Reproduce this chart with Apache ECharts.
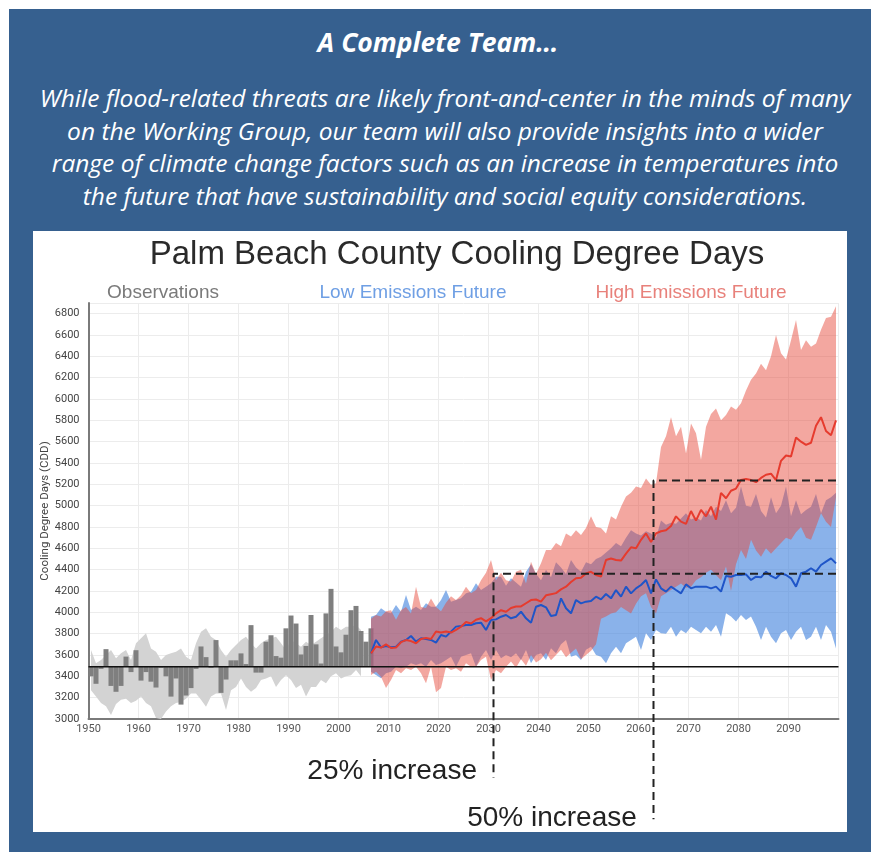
<!DOCTYPE html>
<html>
<head>
<meta charset="utf-8">
<title>Palm Beach County Cooling Degree Days</title>
<script src="https://cdn.jsdelivr.net/npm/echarts@6/dist/echarts.min.js"></script>
<style>
  html, body { margin: 0; padding: 0; background: #fff; }
  .panel { position: absolute; left: 9px; top: 9px; width: 862px; height: 843px; background: #36608f; }
  .head { position: absolute; left: -2px; top: 18px; width: 862px; text-align: center; color: #fff;
          font: italic bold 26.5px/30px "Open Sans", sans-serif; }
  .intro { position: absolute; left: 10px; top: 73px; width: 852px; text-align: center; color: #fff;
           font: italic 24.5px/32.7px "Open Sans", sans-serif; }
  #chart { position: absolute; left: 24px; top: 222px; width: 814px; height: 601px; background: #fff; }
</style>
</head>
<body>
<div class="panel">
  <div class="head">A Complete Team…</div>
  <div class="intro">While flood-related threats are likely front-and-center in the minds of many<br>on the Working Group, our team will also provide insights into a wider<br>range of climate change factors such as an increase in temperatures into<br>the future that have sustainability and social equity considerations.</div>
  <div id="chart"></div>
</div>
<script>
// observed annual CDD, 1950-2006 (bars) and observed spread, 1950-2004 (gray band)
const OBS_START = 1950;
const obsValues = [3400, 3330, 3470, 3655, 3310, 3255, 3310, 3585, 3440, 3645,
  3360, 3440, 3350, 3295, 3480, 3400, 3210, 3380, 3135, 3220,
  3290, 3470, 3680, 3580, 3480, 3740, 3245, 3370, 3550, 3550,
  3615, 3515, 3880, 3435, 3435, 3725, 3785, 3590, 3575, 3850,
  3970, 3895, 3605, 3685, 3975, 3700, 3520, 3990, 4220, 3680,
  3625, 3790, 4020, 4060, 3825, 3725, 3850];
const obsUpper = [3647, 3522, 3553, 3600, 3647, 3569, 3616, 3647, 3553, 3709,
  3756, 3803, 3662, 3631, 3553, 3600, 3616, 3631, 3662, 3584,
  3553, 3709, 3818, 3850, 3772, 3741, 3647, 3584, 3647, 3694,
  3741, 3772, 3709, 3662, 3709, 3741, 3756, 3772, 3709, 3647,
  3741, 3709, 3678, 3725, 3694, 3725, 3756, 3787, 3818, 3866,
  3834, 3866, 3866, 3881, 3834];
const obsLower = [3270, 3210, 3150, 3120, 3037, 3140, 3180, 3190, 3150, 3170,
  3210, 3150, 3120, 3010, 3000, 3070, 3120, 3150, 3160, 3190,
  3240, 3240, 3180, 3115, 3210, 3240, 3240, 3085, 3270, 3300,
  3380, 3300, 3255, 3290, 3365, 3380, 3400, 3300, 3365, 3410,
  3365, 3290, 3320, 3210, 3300, 3300, 3365, 3335, 3400, 3430,
  3380, 3400, 3410, 3460, 3400];

// model projections, 2006-2099
const FUT_START = 2006;
const lowMean = [3616, 3741, 3672, 3684, 3672, 3678, 3725, 3741, 3778, 3725, 3756, 3750, 3741, 3716,
  3787, 3772, 3819, 3866, 3872, 3881, 3881, 3897, 3903, 3834,
  3928, 3934, 3959, 3975, 3944, 3959, 4006, 3944, 3903, 4053,
  4069, 4047, 3966, 3975, 4131, 4038, 3991, 4116, 4084, 4100,
  4106, 4147, 4122, 4172, 4131, 4209, 4147, 4241, 4178, 4225,
  4256, 4303, 4178, 4309, 4225, 4194, 4241, 4209, 4178, 4262,
  4225, 4241, 4241, 4241, 4225, 4241, 4194, 4341, 4334, 4350,
  4350, 4356, 4303, 4334, 4328, 4381, 4341, 4319, 4366, 4350,
  4319, 4241, 4366, 4381, 4413, 4381, 4444, 4475, 4506, 4459];
const highMean = [3616, 3680, 3670, 3700, 3665, 3670, 3720, 3740, 3730, 3710, 3750, 3760, 3750, 3820,
  3810, 3820, 3810, 3835, 3865, 3910, 3895, 3930, 3945, 3915,
  3945, 3990, 4020, 4005, 4040, 4055, 4055, 4085, 4115, 4120,
  4100, 4160, 4170, 4180, 4215, 4240, 4285, 4320, 4325, 4365,
  4380, 4350, 4335, 4490, 4505, 4490, 4485, 4550, 4610, 4600,
  4680, 4740, 4660, 4740, 4760, 4770, 4810, 4900, 4850, 4830,
  4950, 4860, 4960, 4900, 4990, 4870, 5120, 5070, 5140, 5160,
  5240, 5250, 5240, 5220, 5260, 5290, 5300, 5240, 5420, 5470,
  5460, 5640, 5600, 5570, 5590, 5750, 5830, 5700, 5660, 5800];
const lowUpper = [3959, 3975, 4038, 4006, 3991, 4069, 4006, 4162, 4022, 4053, 4022, 4084, 4053, 4053,
  4116, 4209, 4100, 4116, 4131, 4178, 4194, 4272, 4209, 4241, 4272, 4334, 4334,
  4250, 4320, 4280, 4240, 4380, 4450, 4360, 4300, 4400, 4330, 4470, 4420, 4360, 4490, 4420, 4380, 4470,
  4450, 4500, 4520, 4560, 4600, 4650, 4620, 4700, 4770, 4740,
  4720, 4760, 4740, 4700, 4860, 4820, 4840, 4830, 4880, 4930,
  4870, 4890, 4860, 4960, 4900, 4990, 4950, 5050, 4930, 4980,
  5180, 5000, 4990, 5110, 4950, 4890, 5080, 4930, 5000, 5180,
  4900, 5050, 4920, 4960, 4990, 5110, 4930, 5050, 5080, 5120];
const lowLower = [3444, 3412, 3381, 3428, 3444, 3491, 3475, 3491, 3522, 3506, 3522, 3491, 3553, 3506,
  3522, 3553, 3584, 3491, 3584, 3600, 3616, 3491, 3584, 3647, 3553, 3647, 3569,
  3600, 3580, 3616, 3553, 3647, 3522, 3600, 3616, 3553, 3663,
  3616, 3700, 3741, 3584, 3600, 3553, 3650, 3678, 3600, 3584,
  3522, 3616, 3678, 3616, 3709, 3741, 3772, 3647, 3803, 3741,
  3834, 3803, 3800, 3866, 3772, 3834, 3803, 3866, 3834, 3803,
  3866, 3819, 3881, 3772, 3991, 3960, 3913, 3975, 3928, 3960,
  3866, 3741, 3866, 3772, 3709, 3803, 3834, 3741, 3819, 3866,
  3741, 3772, 3866, 3741, 3881, 3819, 3660];
const highUpper = [3940, 3975, 3960, 4010, 4020, 3930, 4020, 4050, 3990, 4240, 4050, 4040, 4130, 4050,
  4010, 4090, 4150, 4115, 4160, 4240, 4180, 4210, 4300, 4370, 4490, 4300, 4370, 4300,
  4290, 4380, 4400, 4270, 4475, 4360, 4460, 4585, 4585, 4650,
  4620, 4740, 4710, 4770, 4725, 4790, 4900, 4800, 4790, 4740,
  4900, 4870, 4990, 5085, 5120, 5180, 5165, 5255, 5195, 5210,
  5550, 5650, 5830, 5650, 5740, 5490, 5770, 5680, 5430, 5740,
  5860, 5910, 5800, 5850, 5930, 5900, 5960, 6080, 6180, 6240,
  6330, 6270, 6400, 6600, 6430, 6370, 6550, 6740, 6460, 6550,
  6490, 6520, 6650, 6760, 6770, 6870];
const highLower = [3412, 3444, 3397, 3290, 3366, 3459, 3428, 3475, 3459, 3491, 3428, 3334, 3491, 3250,
  3290, 3491, 3459, 3475, 3444, 3522, 3491, 3491, 3553, 3584, 3366, 3459, 3428, 3491,
  3540, 3480, 3560, 3500, 3600, 3530, 3560, 3620, 3550, 3600, 3650, 3580, 3620, 3660, 3560, 3600, 3640, 3700,
  3940, 3960, 3990, 4000, 4050, 4020, 3990, 4080, 4150, 4180,
  4050, 3990, 4150, 4180, 4210, 4240, 4270, 4230, 4240, 4300,
  4330, 4370, 4400, 4350, 4300, 4430, 4200, 4450, 4585, 4500,
  4680, 4580, 4520, 4600, 4550, 4600, 4650, 4700, 4680, 4750,
  4800, 4700, 4680, 4800, 4930, 4850, 4800, 5080];

// reference level and the +25% / +50% markers
const BASELINE = 3490;
const increaseLevels = [4362, 5235];
const increaseYears = [2031, 2063];
const increaseLabels = ['25% increase', '50% increase'];
const markerBottoms = [2450, 2060];
const LAST_YEAR = 2099.5;

// rows are [value, year]; a value sits in the middle of its year.
// value comes first so that stacking adds up the values, not the years
const pts = (start, arr) => arr.map((v, i) => [v, start + i + 0.5]);
const diff = (start, hi, lo) => hi.map((v, i) => [v - lo[i], start + i + 0.5]);
const ENC = { x: 1, y: 0 };

const chart = echarts.init(document.getElementById('chart'));

const band = (name, start, hi, lo, color, z) => [
  { name: name + '-lo', type: 'line', stack: name, data: pts(start, lo), encode: ENC, symbol: 'none',
    lineStyle: { opacity: 0 }, silent: true, z: z },
  { name: name, type: 'line', stack: name, data: diff(start, hi, lo), encode: ENC, symbol: 'none',
    lineStyle: { opacity: 0 }, areaStyle: { color: color, opacity: 1 }, silent: true, z: z }
];

const markerSeries = increaseLevels.map((lvl, i) => ({
  type: 'line',
  data: [[LAST_YEAR, lvl], [increaseYears[i], lvl], [increaseYears[i], markerBottoms[i]]],
  symbol: 'none',
  clip: false,
  lineStyle: { color: '#222', width: 2, type: [8, 5] },
  z: 8
}));

const plain = v => String(v);

const option = {
  animation: false,
  grid: { left: 55.5, right: 8.5, top: 72, bottom: 113, outerBoundsMode: 'none', containLabel: false },
  xAxis: {
    type: 'value',
    min: 1950,
    max: 2100,
    interval: 10,
    axisLine: { onZero: false, lineStyle: { color: '#7a7a7a', width: 2 } },
    axisTick: { show: false },
    axisLabel: { color: '#555', fontSize: 11, fontFamily: 'Roboto', margin: 5, showMaxLabel: false, formatter: plain },
    splitLine: { show: true, lineStyle: { color: '#ececec', width: 1 } }
  },
  yAxis: {
    type: 'value',
    min: 3000,
    max: 6900,
    interval: 200,
    name: 'Cooling Degree Days (CDD)',
    nameLocation: 'middle',
    nameGap: 37,
    nameMoveOverlap: false,
    nameTextStyle: { color: '#444', fontSize: 11.5, fontFamily: 'Roboto' },
    axisLine: { show: true, onZero: false, lineStyle: { color: '#7a7a7a', width: 2 } },
    axisTick: { show: false },
    axisLabel: { color: '#444', fontSize: 11, fontFamily: 'Roboto', margin: 9, showMaxLabel: false, formatter: plain },
    splitLine: { lineStyle: { color: '#ececec', width: 1 } }
  },
  graphic: [
    { type: 'text', x: 424, y: 24, style: { text: 'Palm Beach County Cooling Degree Days',
      fill: '#2a2a2a', font: '33px "Liberation Sans", sans-serif', align: 'center', verticalAlign: 'middle' } },
    { type: 'text', x: 130, y: 62, style: { text: 'Observations', fill: '#7a7a7a',
      font: '19px "Liberation Sans", sans-serif', align: 'center', verticalAlign: 'middle' } },
    { type: 'text', x: 380, y: 62, style: { text: 'Low Emissions Future', fill: '#6f9fe4',
      font: '19px "Liberation Sans", sans-serif', align: 'center', verticalAlign: 'middle' } },
    { type: 'text', x: 658, y: 62, style: { text: 'High Emissions Future', fill: '#e8817b',
      font: '19px "Liberation Sans", sans-serif', align: 'center', verticalAlign: 'middle' } },
    { type: 'text', x: 444, y: 540, style: { text: increaseLabels[0], fill: '#222',
      font: '28px "Liberation Sans", sans-serif', align: 'right', verticalAlign: 'middle' } },
    { type: 'text', x: 519, y: 587, style: { text: increaseLabels[1], fill: '#222',
      font: '28px "Liberation Sans", sans-serif', align: 'center', verticalAlign: 'middle' } }
  ],
  series: [
    ...band('obsBand', OBS_START, obsUpper, obsLower, '#d3d3d3', 1),
    { name: 'obsBase', type: 'bar', stack: 'obs', barWidth: 5, z: 2, silent: true, encode: ENC,
      itemStyle: { color: 'transparent' },
      data: obsValues.map((v, i) => [Math.min(v, BASELINE), OBS_START + i + 0.5]) },
    { name: 'Observations', type: 'bar', stack: 'obs', barWidth: 5, z: 2, encode: ENC,
      itemStyle: { color: '#7f7f7f' },
      data: obsValues.map((v, i) => [Math.abs(v - BASELINE), OBS_START + i + 0.5]) },
    ...band('lowBand', FUT_START, lowUpper, lowLower, 'rgba(75,137,223,0.65)', 3),
    ...band('highBand', FUT_START, highUpper, highLower, 'rgba(230,72,57,0.48)', 4),
    { type: 'line', data: [[1950, BASELINE], [2100, BASELINE]], symbol: 'none', z: 5,
      lineStyle: { color: '#111', width: 1.6 } },
    { name: 'Low Emissions Future', type: 'line', data: pts(FUT_START, lowMean), encode: ENC, symbol: 'none', z: 6,
      lineStyle: { color: '#1f55c8', width: 2 } },
    { name: 'High Emissions Future', type: 'line', data: pts(FUT_START, highMean), encode: ENC, symbol: 'none', z: 7,
      lineStyle: { color: '#e63b2e', width: 2 } },
    ...markerSeries
  ]
};

chart.setOption(option);
</script>
</body>
</html>
